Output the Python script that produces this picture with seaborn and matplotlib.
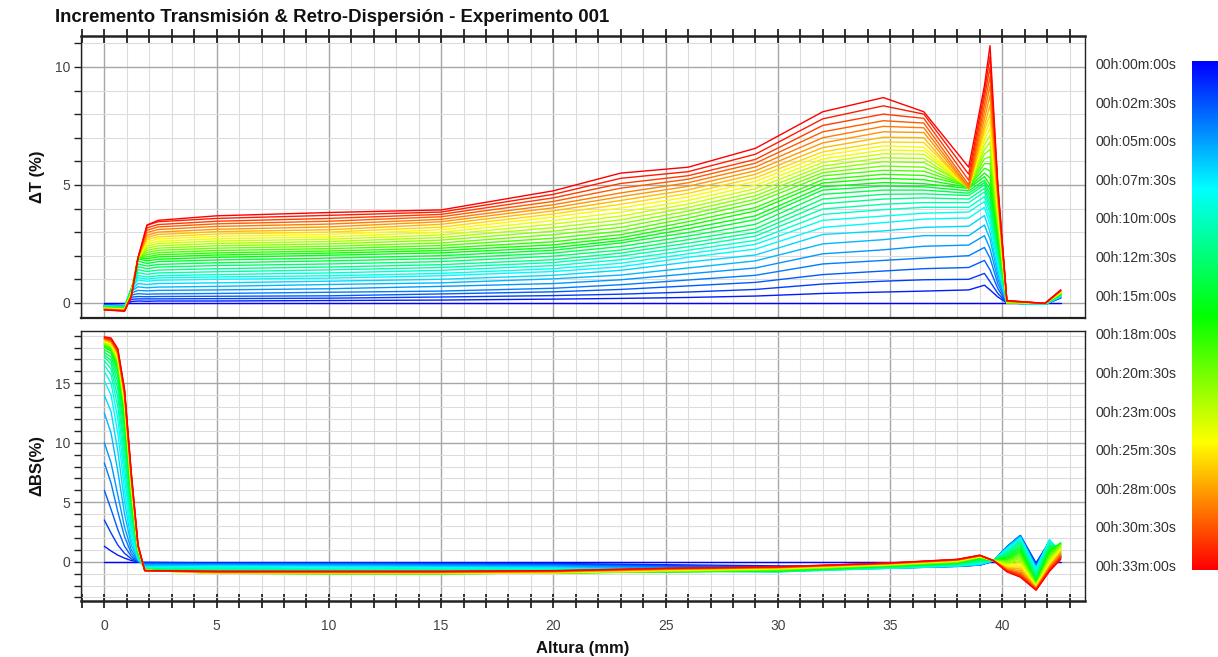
import matplotlib
matplotlib.use("Agg")
import matplotlib.pyplot as plt
import numpy as np
import pandas as pd
import seaborn as sns
from matplotlib.colors import LinearSegmentedColormap
from matplotlib.ticker import MultipleLocator

# ---- scans (one per minute) -------------------------------------------------
scan_minutes = list(range(34))

legend_labels = [
    "00h:00m:00s", "00h:02m:30s", "00h:05m:00s", "00h:07m:30s", "00h:10m:00s",
    "00h:12m:30s", "00h:15m:00s", "00h:18m:00s", "00h:20m:30s", "00h:23m:00s",
    "00h:25m:30s", "00h:28m:00s", "00h:30m:30s", "00h:33m:00s",
]

# ---- transmission increment (%) vs height (mm), one row per scan -------------
heights_t = [0.0, 0.9, 1.2, 1.5, 1.9, 2.4, 5, 10, 15, 20, 23, 26, 29, 32, 34.7,
             36.5, 38.5, 39.2, 39.45, 39.8, 40.2, 41.9, 42.6]

delta_t = [
    [0, 0, 0, 0, 0, 0, 0, 0, 0, 0, 0, 0, 0, 0, 0, 0, 0, 0, 0, 0, 0, 0, 0],
    [-0.09, -0.11, 0.06, 0.08, 0.07, 0.08, 0.08, 0.10, 0.12, 0.16, 0.19, 0.23, 0.29, 0.40, 0.46, 0.50, 0.55, 0.75, 0.55, 0.25, 0.00, -0.06, 0.21],
    [-0.09, -0.12, 0.15, 0.17, 0.17, 0.17, 0.18, 0.20, 0.25, 0.31, 0.37, 0.46, 0.57, 0.80, 0.92, 0.98, 1.00, 1.25, 0.90, 0.40, 0.00, -0.06, 0.22],
    [-0.10, -0.12, 0.24, 0.27, 0.26, 0.27, 0.28, 0.30, 0.38, 0.47, 0.57, 0.72, 0.87, 1.20, 1.35, 1.45, 1.50, 1.80, 1.40, 0.60, 0.00, -0.06, 0.23],
    [-0.11, -0.13, 0.33, 0.39, 0.37, 0.38, 0.40, 0.45, 0.50, 0.62, 0.77, 0.97, 1.17, 1.65, 1.80, 1.90, 2.00, 2.35, 1.90, 0.80, 0.00, -0.06, 0.24],
    [-0.11, -0.14, 0.42, 0.53, 0.51, 0.53, 0.55, 0.60, 0.70, 0.82, 0.98, 1.23, 1.48, 2.08, 2.25, 2.40, 2.45, 2.85, 2.30, 1.00, 0.00, -0.06, 0.25],
    [-0.12, -0.15, 0.50, 0.68, 0.64, 0.67, 0.70, 0.78, 0.85, 1.02, 1.18, 1.48, 1.78, 2.50, 2.68, 2.85, 2.85, 3.30, 2.70, 1.20, 0.00, -0.06, 0.26],
    [-0.13, -0.15, 0.55, 0.82, 0.78, 0.82, 0.85, 0.92, 1.00, 1.17, 1.38, 1.73, 2.03, 2.90, 3.05, 3.20, 3.25, 3.70, 3.00, 1.40, 0.00, -0.06, 0.27],
    [-0.13, -0.16, 0.60, 0.97, 0.92, 0.96, 1.00, 1.05, 1.15, 1.33, 1.53, 1.93, 2.28, 3.20, 3.40, 3.55, 3.60, 4.05, 3.30, 1.60, 0.00, -0.06, 0.28],
    [-0.14, -0.17, 0.62, 1.07, 1.01, 1.06, 1.10, 1.15, 1.25, 1.45, 1.68, 2.08, 2.48, 3.50, 3.68, 3.80, 3.85, 4.30, 3.55, 1.75, 0.00, -0.06, 0.30],
    [-0.15, -0.18, 0.62, 1.16, 1.10, 1.15, 1.20, 1.27, 1.38, 1.58, 1.83, 2.23, 2.65, 3.75, 3.95, 4.05, 4.05, 4.50, 3.80, 1.90, 0.00, -0.06, 0.31],
    [-0.15, -0.18, 0.60, 1.28, 1.21, 1.27, 1.32, 1.40, 1.50, 1.71, 1.98, 2.38, 2.83, 3.98, 4.18, 4.25, 4.25, 4.70, 4.00, 2.00, 0.00, -0.02, 0.32],
    [-0.16, -0.19, 0.58, 1.41, 1.33, 1.39, 1.45, 1.52, 1.62, 1.83, 2.11, 2.53, 2.98, 4.20, 4.40, 4.45, 4.40, 4.85, 4.20, 2.15, 0.00, -0.02, 0.33],
    [-0.17, -0.20, 0.56, 1.53, 1.45, 1.52, 1.58, 1.65, 1.75, 1.98, 2.24, 2.68, 3.14, 4.40, 4.60, 4.62, 4.55, 5.00, 4.40, 2.30, 0.00, -0.02, 0.34],
    [-0.17, -0.21, 0.54, 1.65, 1.56, 1.63, 1.70, 1.78, 1.88, 2.11, 2.39, 2.83, 3.33, 4.60, 4.78, 4.78, 4.65, 5.10, 4.60, 2.45, 0.00, -0.02, 0.35],
    [-0.18, -0.21, 0.52, 1.77, 1.67, 1.75, 1.82, 1.90, 2.00, 2.23, 2.54, 2.98, 3.53, 4.78, 4.95, 4.92, 4.75, 5.20, 4.80, 2.60, 0.00, -0.02, 0.36],
    [-0.19, -0.22, 0.50, 1.87, 1.78, 1.85, 1.93, 2.02, 2.12, 2.34, 2.64, 3.14, 3.69, 4.92, 5.10, 5.05, 4.85, 5.35, 5.00, 2.75, 0.00, -0.02, 0.37],
    [-0.19, -0.23, 0.48, 1.92, 1.87, 1.95, 2.03, 2.11, 2.22, 2.46, 2.76, 3.29, 3.89, 5.08, 5.28, 5.22, 4.90, 5.50, 5.30, 2.90, 0.00, -0.02, 0.38],
    [-0.20, -0.24, 0.46, 1.92, 1.95, 2.04, 2.12, 2.20, 2.32, 2.59, 2.89, 3.44, 4.04, 5.22, 5.45, 5.40, 4.95, 5.70, 5.60, 3.05, 0.00, -0.02, 0.39],
    [-0.21, -0.24, 0.45, 1.92, 2.04, 2.13, 2.22, 2.30, 2.43, 2.74, 3.04, 3.59, 4.24, 5.38, 5.62, 5.58, 4.95, 5.90, 5.90, 3.20, 0.00, -0.02, 0.40],
    [-0.21, -0.25, 0.44, 1.92, 2.13, 2.23, 2.32, 2.40, 2.54, 2.89, 3.20, 3.74, 4.39, 5.52, 5.80, 5.75, 4.95, 6.10, 6.20, 3.35, 0.02, -0.02, 0.41],
    [-0.22, -0.26, 0.42, 1.92, 2.23, 2.32, 2.42, 2.50, 2.66, 3.04, 3.36, 3.89, 4.54, 5.66, 5.98, 5.95, 4.95, 6.30, 6.50, 3.50, 0.03, -0.02, 0.42],
    [-0.23, -0.27, 0.40, 1.92, 2.32, 2.42, 2.52, 2.60, 2.77, 3.19, 3.52, 4.04, 4.69, 5.80, 6.15, 6.12, 4.90, 6.50, 6.80, 3.60, 0.03, -0.02, 0.43],
    [-0.23, -0.27, 0.39, 1.92, 2.41, 2.52, 2.62, 2.70, 2.88, 3.34, 3.68, 4.19, 4.84, 5.95, 6.32, 6.30, 4.90, 6.70, 7.10, 3.75, 0.04, -0.02, 0.44],
    [-0.24, -0.28, 0.37, 1.92, 2.50, 2.61, 2.72, 2.80, 2.99, 3.49, 3.84, 4.34, 4.99, 6.10, 6.48, 6.45, 4.85, 6.90, 7.40, 3.90, 0.04, -0.02, 0.45],
    [-0.25, -0.29, 0.36, 1.92, 2.59, 2.71, 2.82, 2.90, 3.10, 3.64, 4.02, 4.49, 5.15, 6.25, 6.65, 6.60, 4.85, 7.10, 7.70, 4.00, 0.05, -0.02, 0.47],
    [-0.25, -0.30, 0.34, 1.92, 2.69, 2.80, 2.92, 3.00, 3.21, 3.77, 4.18, 4.64, 5.30, 6.40, 6.82, 6.80, 4.85, 7.30, 8.00, 4.15, 0.05, -0.02, 0.48],
    [-0.26, -0.30, 0.33, 1.92, 2.78, 2.90, 3.02, 3.10, 3.33, 3.90, 4.34, 4.79, 5.45, 6.58, 7.02, 7.00, 4.80, 7.50, 8.40, 4.30, 0.06, -0.02, 0.49],
    [-0.27, -0.31, 0.31, 1.92, 2.87, 3.00, 3.12, 3.22, 3.44, 4.03, 4.50, 4.94, 5.60, 6.78, 7.25, 7.22, 4.85, 7.80, 8.80, 4.45, 0.07, -0.02, 0.50],
    [-0.27, -0.32, 0.30, 1.92, 2.98, 3.11, 3.24, 3.34, 3.54, 4.16, 4.66, 5.09, 5.76, 7.00, 7.48, 7.42, 4.90, 8.10, 9.20, 4.55, 0.07, -0.02, 0.51],
    [-0.28, -0.33, 0.29, 1.92, 3.08, 3.22, 3.35, 3.46, 3.65, 4.30, 4.86, 5.24, 5.92, 7.25, 7.72, 7.62, 5.00, 8.40, 9.60, 4.70, 0.08, -0.02, 0.52],
    [-0.29, -0.33, 0.28, 1.92, 3.18, 3.32, 3.46, 3.58, 3.75, 4.45, 5.06, 5.39, 6.08, 7.52, 8.00, 7.82, 5.20, 8.70, 10.00, 4.80, 0.09, -0.02, 0.53],
    [-0.29, -0.34, 0.27, 1.91, 3.29, 3.44, 3.58, 3.71, 3.85, 4.60, 5.28, 5.56, 6.30, 7.80, 8.35, 8.00, 5.45, 8.95, 10.45, 4.90, 0.09, -0.02, 0.54],
    [-0.30, -0.35, 0.25, 1.90, 3.30, 3.50, 3.69, 3.83, 3.94, 4.75, 5.50, 5.75, 6.55, 8.10, 8.70, 8.10, 5.75, 9.20, 10.90, 5.00, 0.10, -0.02, 0.55],
]

# ---- backscattering increment (%) vs height (mm), one row per scan -----------
heights_bs = [0.0, 0.3, 0.6, 0.9, 1.2, 1.5, 1.8, 5, 10, 15, 20, 25, 30, 35, 38,
              39.0, 39.6, 40.2, 40.8, 41.5, 42.1, 42.6]

delta_bs = [
    [0, 0, 0, 0, 0, 0, 0, 0, 0, 0, 0, 0, 0, 0, 0, 0, 0, 0, 0, 0, 0, 0],
    [1.3, 0.9, 0.55, 0.3, 0.1, 0.0, -0.05, -0.10, -0.10, -0.12, -0.15, -0.25, -0.35, -0.40, -0.35, -0.28, 0.05, 1.25, 2.20, -0.10, 1.70, 0.35],
    [3.5, 2.4, 1.4, 0.7, 0.25, 0.0, -0.1, -0.13, -0.13, -0.16, -0.20, -0.32, -0.43, -0.45, -0.37, -0.28, 0.06, 1.25, 2.20, -0.20, 1.72, 0.38],
    [6.0, 4.4, 2.7, 1.3, 0.45, 0.0, -0.15, -0.17, -0.17, -0.20, -0.25, -0.38, -0.52, -0.50, -0.38, -0.28, 0.07, 1.25, 2.20, -0.30, 1.73, 0.42],
    [8.3, 6.6, 4.2, 2.1, 0.7, 0.05, -0.2, -0.20, -0.20, -0.25, -0.30, -0.45, -0.60, -0.55, -0.40, -0.28, 0.08, 1.25, 2.20, -0.40, 1.75, 0.45],
    [10.0, 8.3, 5.6, 2.9, 1.0, 0.1, -0.25, -0.25, -0.26, -0.31, -0.36, -0.53, -0.66, -0.55, -0.39, -0.26, 0.08, 1.21, 2.15, -0.45, 1.78, 0.54],
    [12.5, 10.8, 7.6, 4.0, 1.4, 0.15, -0.3, -0.30, -0.33, -0.38, -0.43, -0.60, -0.73, -0.55, -0.38, -0.24, 0.09, 1.18, 2.10, -0.50, 1.80, 0.62],
    [14.0, 12.6, 9.3, 5.0, 1.8, 0.2, -0.4, -0.35, -0.39, -0.44, -0.49, -0.68, -0.79, -0.55, -0.36, -0.22, 0.09, 1.14, 2.05, -0.55, 1.83, 0.71],
    [15.2, 14.0, 10.8, 6.0, 2.2, 0.25, -0.45, -0.40, -0.45, -0.50, -0.55, -0.75, -0.85, -0.55, -0.35, -0.20, 0.10, 1.10, 2.00, -0.60, 1.85, 0.80],
    [16.0, 15.0, 12.0, 7.0, 2.6, 0.3, -0.5, -0.48, -0.53, -0.56, -0.60, -0.77, -0.84, -0.53, -0.32, -0.14, 0.10, 1.00, 1.90, -0.75, 1.74, 0.90],
    [16.5, 15.7, 13.0, 7.9, 3.0, 0.4, -0.55, -0.55, -0.60, -0.63, -0.65, -0.79, -0.84, -0.50, -0.29, -0.07, 0.11, 0.90, 1.80, -0.90, 1.63, 1.00],
    [16.9, 16.2, 13.8, 8.8, 3.5, 0.5, -0.6, -0.63, -0.68, -0.69, -0.70, -0.80, -0.83, -0.48, -0.25, -0.01, 0.11, 0.80, 1.70, -1.05, 1.52, 1.10],
    [17.2, 16.6, 14.5, 9.6, 4.0, 0.6, -0.62, -0.70, -0.75, -0.75, -0.75, -0.82, -0.82, -0.45, -0.22, 0.05, 0.12, 0.70, 1.60, -1.20, 1.40, 1.20],
    [17.4, 16.9, 15.1, 10.4, 4.4, 0.7, -0.65, -0.76, -0.81, -0.81, -0.80, -0.83, -0.80, -0.43, -0.19, 0.11, 0.13, 0.60, 1.45, -1.33, 1.28, 1.30],
    [17.6, 17.2, 15.6, 11.1, 4.8, 0.8, -0.67, -0.83, -0.88, -0.88, -0.85, -0.84, -0.79, -0.40, -0.16, 0.18, 0.13, 0.50, 1.30, -1.45, 1.15, 1.40],
    [17.8, 17.5, 16.0, 11.8, 5.2, 0.85, -0.68, -0.89, -0.94, -0.94, -0.90, -0.84, -0.77, -0.38, -0.13, 0.24, 0.14, 0.40, 1.15, -1.58, 1.03, 1.50],
    [18.0, 17.7, 16.3, 12.4, 5.5, 0.9, -0.7, -0.95, -1.00, -1.00, -0.95, -0.85, -0.75, -0.35, -0.10, 0.30, 0.15, 0.30, 1.00, -1.70, 0.90, 1.60],
    [18.1, 17.8, 16.5, 12.6, 5.65, 0.93, -0.7, -0.96, -1.00, -1.00, -0.95, -0.84, -0.73, -0.33, -0.08, 0.32, 0.14, 0.22, 0.85, -1.75, 0.78, 1.55],
    [18.2, 17.9, 16.6, 12.75, 5.8, 0.96, -0.7, -0.96, -1.00, -1.00, -0.95, -0.83, -0.70, -0.32, -0.05, 0.34, 0.14, 0.15, 0.70, -1.80, 0.65, 1.50],
    [18.25, 18.0, 16.7, 12.9, 5.9, 1.0, -0.7, -0.97, -1.00, -1.00, -0.95, -0.81, -0.68, -0.30, -0.03, 0.36, 0.13, 0.07, 0.55, -1.85, 0.53, 1.45],
    [18.3, 18.05, 16.8, 13.0, 6.0, 1.03, -0.72, -0.98, -1.00, -1.00, -0.95, -0.80, -0.65, -0.28, 0.00, 0.38, 0.12, 0.00, 0.40, -1.90, 0.40, 1.40],
    [18.35, 18.1, 16.9, 13.15, 6.15, 1.06, -0.72, -0.97, -0.99, -0.99, -0.94, -0.78, -0.63, -0.26, 0.02, 0.39, 0.12, -0.08, 0.26, -1.94, 0.28, 1.32],
    [18.4, 18.15, 17.0, 13.3, 6.3, 1.1, -0.72, -0.96, -0.98, -0.98, -0.93, -0.76, -0.61, -0.25, 0.04, 0.41, 0.11, -0.16, 0.12, -1.98, 0.16, 1.24],
    [18.45, 18.2, 17.1, 13.4, 6.4, 1.13, -0.72, -0.96, -0.97, -0.97, -0.92, -0.74, -0.59, -0.23, 0.06, 0.42, 0.11, -0.24, -0.02, -2.02, 0.04, 1.16],
    [18.5, 18.3, 17.2, 13.55, 6.55, 1.16, -0.73, -0.95, -0.96, -0.96, -0.91, -0.72, -0.57, -0.22, 0.08, 0.44, 0.10, -0.32, -0.16, -2.06, -0.08, 1.08],
    [18.55, 18.35, 17.3, 13.7, 6.7, 1.2, -0.73, -0.95, -0.95, -0.95, -0.90, -0.70, -0.55, -0.20, 0.10, 0.45, 0.10, -0.40, -0.30, -2.10, -0.20, 1.00],
    [18.6, 18.4, 17.4, 13.8, 6.8, 1.23, -0.73, -0.93, -0.93, -0.93, -0.88, -0.68, -0.53, -0.19, 0.11, 0.46, 0.10, -0.46, -0.45, -2.14, -0.28, 0.90],
    [18.65, 18.45, 17.45, 13.9, 6.9, 1.26, -0.74, -0.91, -0.91, -0.91, -0.86, -0.66, -0.52, -0.18, 0.12, 0.48, 0.10, -0.53, -0.60, -2.18, -0.35, 0.80],
    [18.7, 18.5, 17.5, 14.0, 7.0, 1.29, -0.74, -0.90, -0.90, -0.90, -0.84, -0.64, -0.50, -0.16, 0.14, 0.49, 0.10, -0.59, -0.75, -2.21, -0.43, 0.70],
    [18.72, 18.55, 17.6, 14.1, 7.1, 1.32, -0.74, -0.88, -0.88, -0.88, -0.82, -0.62, -0.48, -0.15, 0.15, 0.50, 0.10, -0.65, -0.90, -2.25, -0.50, 0.60],
    [18.75, 18.6, 17.65, 14.2, 7.2, 1.35, -0.75, -0.86, -0.86, -0.86, -0.80, -0.60, -0.47, -0.14, 0.16, 0.51, 0.10, -0.70, -1.00, -2.29, -0.58, 0.50],
    [18.8, 18.65, 17.75, 14.3, 7.3, 1.37, -0.75, -0.84, -0.84, -0.84, -0.78, -0.58, -0.45, -0.12, 0.18, 0.53, 0.10, -0.75, -1.10, -2.32, -0.65, 0.40],
    [18.85, 18.7, 17.82, 14.4, 7.4, 1.39, -0.75, -0.82, -0.82, -0.82, -0.77, -0.57, -0.44, -0.11, 0.19, 0.54, 0.10, -0.80, -1.20, -2.36, -0.73, 0.30],
    [18.9, 18.8, 17.9, 14.5, 7.5, 1.4, -0.75, -0.80, -0.80, -0.80, -0.75, -0.55, -0.42, -0.10, 0.20, 0.55, 0.10, -0.85, -1.30, -2.40, -0.80, 0.20],
]

# ---- style --------------------------------------------------------------------
sns.set_theme(style="white")
plt.rcParams["font.family"] = ["Liberation Sans", "DejaVu Sans"]

W, H = 1218, 657
TICK_GRAY = "#444444"
rainbow = LinearSegmentedColormap.from_list(
    "scan_rainbow", ["#0000ff", "#00ffff", "#00ff00", "#ffff00", "#ff0000"])
palette = {m: rainbow(m / scan_minutes[-1]) for m in scan_minutes}


def long_form(heights, table):
    rows = [(m, h, v) for m, profile in zip(scan_minutes, table)
            for h, v in zip(heights, profile)]
    return pd.DataFrame(rows, columns=["scan", "altura", "valor"])


def px_axes(left, top, right, bottom):
    return fig.add_axes([left / W, 1 - bottom / H, (right - left) / W, (bottom - top) / H])


fig = plt.figure(figsize=(W / 100, H / 100), dpi=100, facecolor="white")
ax_t = px_axes(81, 36, 1085, 318)
ax_b = px_axes(81, 331, 1085, 600.5)

panels = [
    (ax_t, heights_t, delta_t, (-0.64, 11.31), "ΔT (%)"),
    (ax_b, heights_bs, delta_bs, (-3.26, 19.39), "ΔBS(%)"),
]

for ax, heights, table, ylim, ylabel in panels:
    sns.lineplot(data=long_form(heights, table), x="altura", y="valor",
                 hue="scan", palette=palette, estimator=None, sort=False,
                 legend=False, linewidth=1.0, ax=ax)
    ax.set_xlim(-1.04, 43.68)
    ax.set_ylim(*ylim)
    ax.xaxis.set_major_locator(MultipleLocator(5))
    ax.xaxis.set_minor_locator(MultipleLocator(1))
    ax.yaxis.set_major_locator(MultipleLocator(5))
    ax.yaxis.set_minor_locator(MultipleLocator(1))
    ax.set_axisbelow(True)
    ax.grid(which="minor", color="#dcdcdc", linewidth=0.8)
    ax.grid(which="major", color="#a6a6a6", linewidth=1.0)
    for side in ("left", "right", "top", "bottom"):
        ax.spines[side].set_color("#222222")
        ax.spines[side].set_linewidth(1.0)
    ax.tick_params(axis="y", which="both", left=True, direction="out",
                   length=5, width=1.0, color="#222222", labelsize=10,
                   labelcolor=TICK_GRAY, pad=3)
    ax.set_ylabel(ylabel, fontsize=12, fontweight="bold", color="#111111")
    ax.yaxis.set_label_coords(-0.036, 0.5)
    ax.set_xlabel("")

ax_t.tick_params(axis="x", which="both", bottom=False, top=True,
                 labelbottom=False, direction="inout", length=10, width=1.2,
                 color="#111111")
ax_t.spines["top"].set_linewidth(1.8)
ax_t.spines["bottom"].set_linewidth(1.6)

ax_b.tick_params(axis="x", which="both", bottom=True, top=False,
                 labelbottom=True, direction="inout", length=10, width=1.2,
                 color="#111111", labelsize=10, labelcolor=TICK_GRAY, pad=8)
ax_b.spines["bottom"].set_linewidth(1.8)
ax_b.set_xlabel("Altura (mm)", fontsize=12, fontweight="bold",
                color="#111111", labelpad=6)

fig.text(55 / W, 1 - 18 / H, "Incremento Transmisión & Retro-Dispersión - Experimento 001",
         ha="left", va="center", fontsize=13.4, fontweight="bold", color="#111111")

# ---- time legend and colour bar ------------------------------------------------
label_top, label_bottom = 65, 567
for i, text in enumerate(legend_labels):
    y = label_top + i * (label_bottom - label_top) / (len(legend_labels) - 1)
    fig.text(1095 / W, 1 - y / H, text, ha="left", va="center",
             fontsize=10.2, color="#333333")

cax = px_axes(1192, 61, 1222, 570)
gradient = np.linspace(0, 1, 256).reshape(-1, 1)
cax.imshow(gradient, aspect="auto", cmap=rainbow, origin="upper")
cax.set_axis_off()

fig.savefig("out.png", dpi=100, facecolor="white")
